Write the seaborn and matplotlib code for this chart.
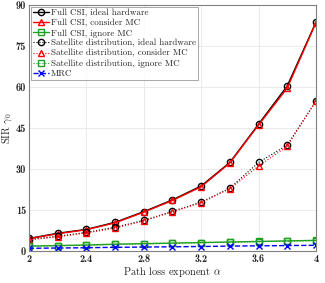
import numpy as np
import pandas as pd
import matplotlib
matplotlib.use("Agg")
import matplotlib.pyplot as plt
import seaborn as sns

# Path loss exponents
alpha = [2.0, 2.2, 2.4, 2.6, 2.8, 3.0, 3.2, 3.4, 3.6, 3.8, 4.0]

# SIR values
full_ideal = [4.6, 6.5, 7.9, 10.5, 14.4, 18.7, 23.8, 32.4, 46.4, 60.4, 83.7]
full_mc = [4.5, 6.3, 7.8, 10.3, 14.2, 18.5, 23.5, 32.2, 46.1, 59.6, 83.5]
full_ignore = [1.8, 2.0, 2.2, 2.5, 2.7, 2.9, 3.1, 3.3, 3.5, 3.7, 3.9]
sat_ideal = [4.2, 5.4, 6.8, 8.7, 11.2, 14.5, 17.9, 23.0, 32.4, 38.8, 54.9]
sat_mc = [4.1, 5.2, 6.6, 8.4, 11.0, 14.3, 17.7, 22.8, 31.1, 38.3, 54.8]
sat_ignore = [1.7, 1.9, 2.1, 2.4, 2.6, 2.8, 3.0, 3.2, 3.4, 3.6, 3.8]
mrc = [1.0, 1.1, 1.2, 1.35, 1.45, 1.55, 1.65, 1.8, 1.9, 2.0, 2.1]

series = [
    ("Full CSI, ideal hardware", full_ideal, "black", "o", "-"),
    ("Full CSI, consider MC", full_mc, "red", "^", "-"),
    ("Full CSI, ignore MC", full_ignore, "#1fa01f", "s", "-"),
    ("Satellite distribution, ideal hardware", sat_ideal, "black", "o", ":"),
    ("Satellite distribution, consider MC", sat_mc, "red", "^", ":"),
    ("Satellite distribution, ignore MC", sat_ignore, "#1fa01f", "s", ":"),
    ("MRC", mrc, "blue", "x", "--"),
]

sns.set_style("whitegrid")
plt.rcParams["font.family"] = ["cmr10", "DejaVu Serif"]
plt.rcParams["mathtext.fontset"] = "cm"
plt.rcParams["axes.formatter.use_mathtext"] = True

fig = plt.figure(figsize=(3.25, 2.83), dpi=100)
ax = fig.add_axes([0.089, 0.113, 0.883, 0.869])

for label, vals, color, marker, ls in series:
    df = pd.DataFrame({"alpha": alpha, "sir": vals})
    lw = 0.8 if ls == ":" else 1.0
    sns.lineplot(data=df, x="alpha", y="sir", ax=ax, color=color, marker=marker,
                 linestyle=ls, linewidth=lw, markersize=4.5, markerfacecolor="none",
                 markeredgecolor=color, markeredgewidth=1.0, label=label)

ax.set_xlim(2, 4)
ax.set_ylim(0, 90)
ax.set_xticks([2, 2.4, 2.8, 3.2, 3.6, 4])
ax.set_xticklabels(["2", "2.4", "2.8", "3.2", "3.6", "4"])
ax.set_yticks([0, 15, 30, 45, 60, 75, 90])
ax.set_yticklabels(["0", "15", "30", "45", "60", "75", "90"])
ax.tick_params(axis="both", labelsize=7.5, pad=2, length=0)
for t in ax.get_xticklabels() + ax.get_yticklabels():
    t.set_family(["cmb10", "DejaVu Serif"])
ax.set_xlabel(r"Path loss exponent $\alpha$", fontsize=7.5, labelpad=1)
ax.set_ylabel(r"SIR $\gamma_0$", fontsize=7.5, labelpad=1)
ax.grid(True, color="#e6e6e6", linewidth=0.6)
for s in ax.spines.values():
    s.set_color("#808080")
    s.set_linewidth(0.8)

leg = ax.legend(loc="upper left", fontsize=6.5, frameon=True, fancybox=False,
                handlelength=1.8, handletextpad=0.2, borderpad=0.25,
                labelspacing=0.18, borderaxespad=0.2)
leg.get_frame().set_edgecolor("#808080")
leg.get_frame().set_linewidth(0.6)

fig.savefig("out.png", dpi=100)
